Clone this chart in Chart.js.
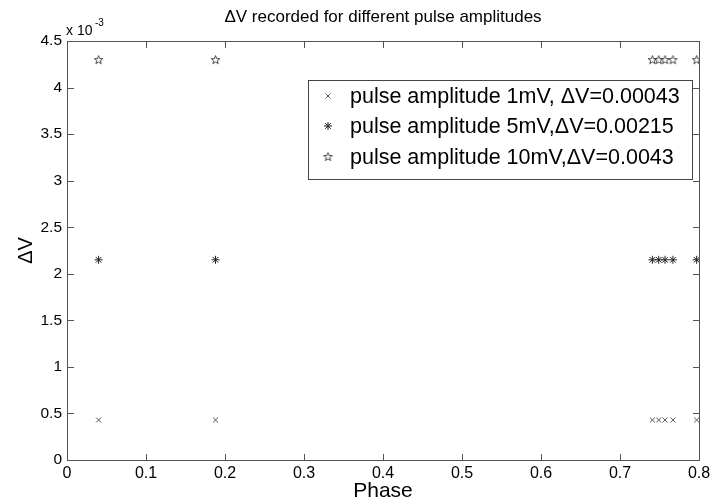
<!DOCTYPE html>
<html>
<head>
<meta charset="utf-8">
<script src="https://cdn.jsdelivr.net/npm/chart.js@4.4.0/dist/chart.umd.min.js"></script>
<style>
  html, body { margin: 0; padding: 0; background: #fff; }
  #wrap { width: 715px; height: 504px; }
</style>
</head>
<body>
<div id="wrap"><canvas id="myChart" width="715" height="504"></canvas></div>
<script>
// values
const phase = [0.04, 0.188, 0.741, 0.749, 0.757, 0.767, 0.797];
const dv1mV = [0.00043, 0.00043, 0.00043, 0.00043, 0.00043, 0.00043, 0.00043];
const dv5mV = [0.00215, 0.00215, 0.00215, 0.00215, 0.00215, 0.00215, 0.00215];
const dv10mV = [0.0043, 0.0043, 0.0043, 0.0043, 0.0043, 0.0043, 0.0043];
const seriesLabels = [
  'pulse amplitude 1mV, \u0394V=0.00043',
  'pulse amplitude 5mV,\u0394V=0.00215',
  'pulse amplitude 10mV,\u0394V=0.0043'
];
const xTicks = [0, 0.1, 0.2, 0.3, 0.4, 0.5, 0.6, 0.7, 0.8];
const yTicks = [0, 0.0005, 0.001, 0.0015, 0.002, 0.0025, 0.003, 0.0035, 0.004, 0.0045];

const FONT = '"Liberation Sans", Arial, sans-serif';

// five pointed star outline, drawn once and used as point style
function makeStar(size) {
  const c = document.createElement('canvas');
  c.width = size; c.height = size;
  const g = c.getContext('2d');
  const cx = size / 2, cy = size / 2 + 0.5;
  const ro = size / 2 - 1, ri = ro * 0.42;
  g.beginPath();
  for (let i = 0; i < 10; i++) {
    const r = i % 2 ? ri : ro;
    const a = -Math.PI / 2 + i * Math.PI / 5;
    const px = cx + r * Math.cos(a), py = cy + r * Math.sin(a);
    if (i === 0) g.moveTo(px, py); else g.lineTo(px, py);
  }
  g.closePath();
  g.strokeStyle = '#333';
  g.lineWidth = 0.9;
  g.stroke();
  return c;
}
const starImg = makeStar(11);

const toPoints = ys => phase.map((x, i) => ({ x: x, y: ys[i] }));

const dataSource = {
  datasets: [
    { label: seriesLabels[0], data: toPoints(dv1mV), pointStyle: 'crossRot', pointRadius: 3.5,
      borderColor: '#555', borderWidth: 1, showLine: false },
    { label: seriesLabels[1], data: toPoints(dv5mV), pointStyle: 'star', pointRadius: 4,
      borderColor: '#222', borderWidth: 1, showLine: false },
    { label: seriesLabels[2], data: toPoints(dv10mV), pointStyle: starImg,
      borderColor: '#333', borderWidth: 1, showLine: false }
  ]
};

// frame, inward ticks, titles, exponent and the boxed legend, matlab style
const matlabLook = {
  id: 'matlabLook',
  afterDraw(chart) {
    const ctx = chart.ctx;
    const a = chart.chartArea;
    const xs = chart.scales.x, ys = chart.scales.y;
    const L = Math.round(a.left), R = Math.round(a.right);
    const T = Math.round(a.top), B = Math.round(a.bottom);
    ctx.save();
    ctx.fillStyle = '#555';
    // frame
    ctx.fillRect(L, T, R - L + 1, 1);
    ctx.fillRect(L, B, R - L + 1, 1);
    ctx.fillRect(L, T, 1, B - T + 1);
    ctx.fillRect(R, T, 1, B - T + 1);
    // inward ticks
    for (let i = 0; i < xTicks.length; i++) {
      const px = Math.round(xs.getPixelForValue(xTicks[i]));
      ctx.fillRect(px, B - 6, 1, 6);
      ctx.fillRect(px, T + 1, 1, 6);
    }
    for (let i = 0; i < yTicks.length; i++) {
      const py = Math.round(ys.getPixelForValue(yTicks[i]));
      ctx.fillRect(L + 1, py, 6, 1);
      ctx.fillRect(R - 6, py, 6, 1);
    }

    ctx.fillStyle = '#000';
    ctx.textAlign = 'center';
    ctx.textBaseline = 'middle';
    ctx.font = '17px ' + FONT;
    ctx.fillText('\u0394V recorded for different pulse amplitudes', (a.left + a.right) / 2, 17);
    ctx.font = '21px ' + FONT;
    ctx.fillText('Phase', (a.left + a.right) / 2, 491);
    ctx.save();
    ctx.translate(26, (a.top + a.bottom) / 2);
    ctx.rotate(-Math.PI / 2);
    ctx.font = '20px ' + FONT;
    ctx.fillText('\u0394V', 0, 0);
    ctx.restore();

    ctx.textAlign = 'left';
    ctx.textBaseline = 'alphabetic';
    ctx.font = '14px ' + FONT;
    ctx.fillText('x 10', a.left - 1, 35);
    ctx.font = '10px ' + FONT;
    ctx.fillText('-3', a.left + 28, 26);

    // legend box
    const lx = 308, ly = 80, lw = 384, lh = 99;
    ctx.fillStyle = '#fff';
    ctx.fillRect(lx, ly, lw, lh);
    ctx.fillStyle = '#444';
    ctx.fillRect(lx, ly, lw + 1, 1);
    ctx.fillRect(lx, ly + lh, lw + 1, 1);
    ctx.fillRect(lx, ly, 1, lh + 1);
    ctx.fillRect(lx + lw, ly, 1, lh + 1);
    ctx.textBaseline = 'middle';
    ctx.font = '21.5px ' + FONT;
    ctx.fillStyle = '#000';
    const rows = [96, 126, 157];
    chart.data.datasets.forEach((ds, i) => {
      const my = rows[i];
      const mx = 328;
      ctx.strokeStyle = ds.borderColor;
      ctx.lineWidth = 1;
      if (ds.pointStyle === 'crossRot' || ds.pointStyle === 'star') {
        const r = ds.pointRadius * 0.7;
        ctx.beginPath();
        ctx.moveTo(mx - r, my - r); ctx.lineTo(mx + r, my + r);
        ctx.moveTo(mx - r, my + r); ctx.lineTo(mx + r, my - r);
        if (ds.pointStyle === 'star') {
          const s = ds.pointRadius;
          ctx.moveTo(mx, my - s); ctx.lineTo(mx, my + s);
          ctx.moveTo(mx - s, my); ctx.lineTo(mx + s, my);
        }
        ctx.stroke();
      } else {
        ctx.drawImage(ds.pointStyle, mx - 5.5, my - 6);
      }
      ctx.fillText(ds.label, 350, my + 1);
    });
    ctx.restore();
  }
};

new Chart(document.getElementById('myChart').getContext('2d'), {
  type: 'scatter',
  data: dataSource,
  options: {
    responsive: false,
    animation: false,
    layout: { padding: { left: 0, right: 16, top: 41, bottom: 0 } },
    plugins: {
      legend: { display: false },
      title: { display: false },
      tooltip: { enabled: false }
    },
    scales: {
      x: {
        type: 'linear', min: 0, max: 0.8,
        afterFit: s => { s.height = 44; },
        afterBuildTicks: s => { s.ticks = xTicks.map(v => ({ value: v })); },
        grid: { display: false, drawTicks: false },
        border: { display: false },
        ticks: {
          padding: 4, color: '#000', font: { family: FONT, size: 16 },
          maxRotation: 0, autoSkip: false,
          callback: v => String(Math.round(v * 10) / 10)
        }
      },
      y: {
        type: 'linear', min: 0, max: 0.0045,
        afterFit: s => { s.width = 67; },
        afterBuildTicks: s => { s.ticks = yTicks.map(v => ({ value: v })); },
        grid: { display: false, drawTicks: false },
        border: { display: false },
        ticks: {
          padding: 5, color: '#000', font: { family: FONT, size: 15.5 },
          autoSkip: false,
          callback: v => String(Math.round(v * 10000) / 10)
        }
      }
    }
  },
  plugins: [matlabLook]
});
</script>
</body>
</html>
